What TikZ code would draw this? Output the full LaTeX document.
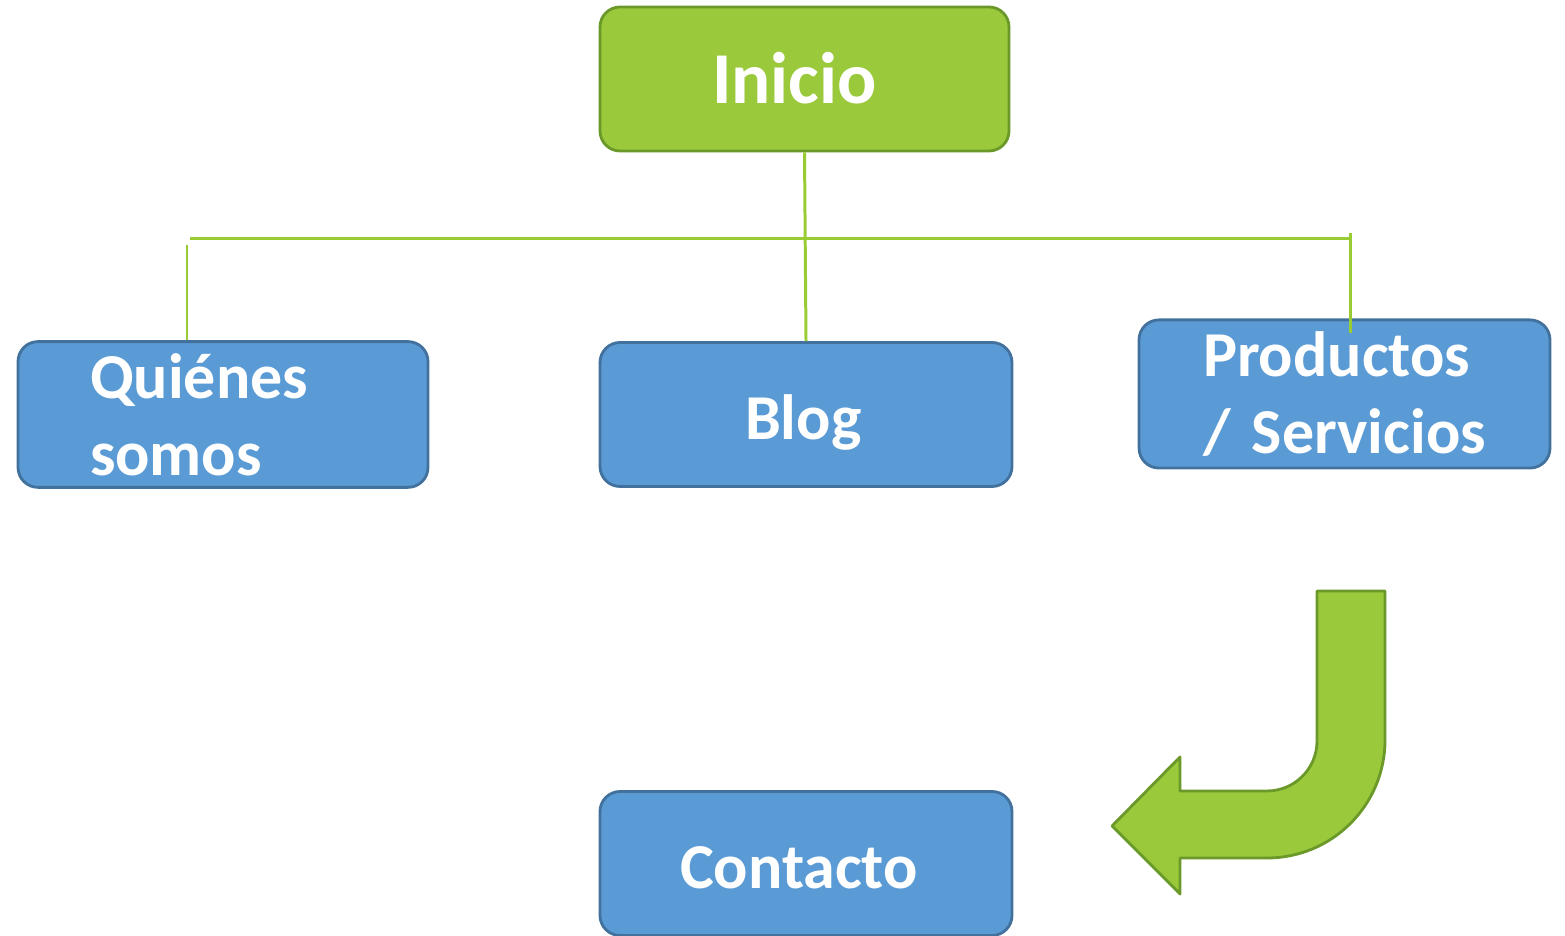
\documentclass[tikz,border=0pt]{standalone}
\usepackage{fontspec}
\setmainfont{Carlito}
\definecolor{boxblue}{HTML}{5B9BD5}
\definecolor{boxblueedge}{HTML}{41719C}
\definecolor{leafgreen}{HTML}{9ACA3C}
\definecolor{leafgreenedge}{HTML}{6A992A}
\definecolor{linkgreen}{HTML}{99CC33}
\begin{document}
\begin{tikzpicture}[
    page/.style={draw=boxblueedge,fill=boxblue,line width=0.8pt,rounded corners=0.2cm,
      text=white,font=\bfseries\fontsize{18.2}{21.9}\selectfont,minimum height=1.44cm,
      align=left},
    single/.style={page,text height=14.2pt,text depth=0pt},
    home/.style={single,draw=leafgreenedge,fill=leafgreen,font=\bfseries\fontsize{20.8}{24}\selectfont},
    link/.style={draw=linkgreen,line width=0.85pt},
    bent/.style={draw=leafgreenedge,fill=leafgreen,line width=0.8pt,line join=round}
  ]
  \useasboundingbox (0,0) rectangle (15.65,9.36);
  %% top of the site
  \node[home,inner xsep=1.12cm,text width=1.85cm] (inicio) at (8.045,8.57) {Inicio};
  %% second row of pages
  \node[page,inner xsep=0.72cm,text width=2.66cm] (quienes) at (2.23,5.215)
    {Quiénes\\somos};
  \node[single,inner xsep=1.45cm,text width=1.22cm] (blog) at (8.06,5.215) {Blog};
  \node[page,inner xsep=0.64cm,text width=2.83cm] (productos) at (13.445,5.42)
    {\mbox{Productos}\\\mbox{/ Servicios}};
  %% last page
  \node[single,inner xsep=0.80cm,text width=2.52cm] (contacto) at (8.06,0.725) {Contacto};
  %% branching lines
  \coordinate (barL)  at (1.90,6.97);
  \coordinate (barR)  at (13.50,6.97);
  \coordinate (dropL) at (1.87,6.91);
  \coordinate (dropR) at (13.50,7.03);
  \coordinate (tipR)  at (13.50,6.03);
  \draw[link] (inicio.south) -- (blog.north);
  \draw[link] (barL) -- (barR);
  \draw[link] (dropL) -- (dropL |- quienes.north);
  \draw[link] (dropR) -- (tipR);
  %% bent arrow down to the last page
  \draw[bent] (13.17,3.45) -- (13.85,3.45) -- (13.85,1.96) arc(0:-90:1.18)
    -- (11.80,0.78) -- (11.80,0.42) -- (11.12,1.10) -- (11.80,1.79) -- (11.80,1.45)
    -- (12.67,1.45) arc(-90:0:0.50) -- cycle;
\end{tikzpicture}
\end{document}
